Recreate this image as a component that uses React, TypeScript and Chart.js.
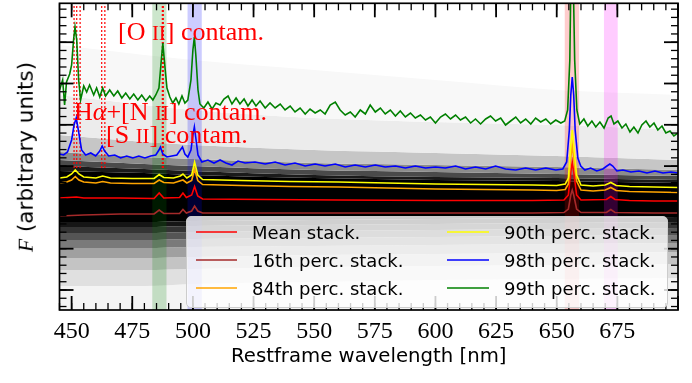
import React, { useEffect, useRef, useState } from 'react';
import { Chart, registerables } from 'chart.js';

Chart.register(...registerables);

// ---------- axes ----------
const X_MIN = 445;
const X_MAX = 700;
const X_TICKS = [450, 475, 500, 525, 550, 575, 600, 625, 650, 675];
const X_MAJOR_STEP = 25;
const X_MINOR_STEP = 5;
const Y_MIN = -2;
const Y_MAX = 28.67;
const Y_MAJOR_STEP = 4.13;
const Y_MINOR_DIV = 5;

// ---------- spectra (wavelength nm, flux arbitrary units) ----------
const P99: [number, number][] = [
  [445.0, 20.0], [446.3, 21.0], [447.1, 18.5], [447.9, 20.8], [449.2, 21.6], [450.0, 22.5], [450.8, 25.0], [451.4, 26.3], [452.1, 25.0], [452.9, 21.0],
  [453.7, 19.0], [455.0, 20.4], [456.2, 19.8], [457.4, 20.5], [459.1, 19.5], [460.3, 20.2], [461.6, 19.3], [462.8, 20.2], [464.0, 19.4], [465.7, 20.0],
  [467.4, 19.4], [469.0, 19.9], [470.7, 19.2], [472.3, 19.7], [474.0, 19.1], [475.6, 19.6], [477.3, 19.0], [478.9, 19.5], [480.6, 18.9], [482.2, 19.4],
  [483.5, 19.0], [484.7, 19.5], [486.0, 20.2], [486.8, 22.5], [487.6, 24.7], [488.4, 22.5], [489.3, 20.2], [490.5, 19.3], [491.7, 18.7], [493.0, 19.2],
  [494.2, 18.6], [495.5, 19.4], [496.7, 18.7], [497.9, 19.0], [499.2, 21.0], [500.0, 24.0], [500.6, 25.3], [501.2, 23.5], [502.1, 20.0], [502.9, 18.6],
  [504.5, 18.2], [506.2, 18.8], [507.9, 18.1], [509.5, 18.7], [511.2, 18.5], [512.8, 19.1], [514.5, 19.4], [516.1, 18.6], [517.8, 19.2], [519.4, 18.6],
  [521.1, 19.1], [522.7, 18.4], [524.4, 19.0], [526.0, 18.4], [527.7, 18.9], [529.8, 18.2], [531.8, 18.7], [533.9, 18.2], [536.0, 18.6], [538.0, 18.0],
  [540.1, 18.4], [542.1, 17.8], [544.2, 18.2], [546.3, 17.6], [548.3, 18.1], [550.4, 17.7], [552.5, 18.0], [554.5, 17.6], [556.6, 18.5], [558.7, 18.8],
  [560.7, 18.0], [562.8, 17.5], [564.9, 17.8], [566.9, 17.3], [569.0, 18.0], [571.1, 17.6], [573.1, 18.5], [575.2, 17.8], [577.3, 18.2], [579.3, 17.6],
  [581.4, 18.0], [583.5, 17.4], [585.5, 17.9], [587.6, 17.3], [589.7, 17.7], [591.7, 17.2], [593.8, 17.5], [595.9, 17.0], [597.9, 17.3], [600.0, 16.7],
  [602.1, 17.3], [604.1, 17.6], [606.2, 17.1], [608.3, 17.5], [610.3, 17.0], [612.4, 17.3], [614.5, 16.7], [616.5, 17.1], [618.6, 16.6], [620.7, 17.1],
  [622.7, 17.4], [624.8, 16.9], [626.9, 17.2], [628.9, 16.5], [631.0, 16.9], [633.1, 17.3], [635.1, 16.7], [637.2, 17.1], [639.3, 16.6], [641.3, 17.2],
  [643.4, 16.8], [645.5, 17.1], [647.5, 16.6], [649.6, 17.0], [651.7, 16.7], [653.3, 16.9], [654.5, 18.0], [655.4, 23.0], [656.0, 34.0], [656.6, 34.0],
  [657.4, 23.0], [658.3, 18.0], [659.5, 16.6], [661.2, 17.1], [662.8, 16.4], [664.5, 16.9], [666.1, 16.3], [667.8, 16.8], [669.5, 16.2], [671.2, 17.2],
  [672.4, 17.4], [673.6, 16.6], [675.2, 16.9], [676.9, 16.2], [678.5, 16.6], [680.2, 15.8], [681.8, 16.3], [683.5, 15.7], [685.1, 16.5], [686.8, 16.9],
  [688.4, 16.3], [690.1, 16.7], [691.7, 16.0], [693.4, 16.4], [695.0, 15.7], [696.7, 15.9], [698.3, 15.4], [700.0, 15.7],
];

const P98: [number, number][] = [
  [445.0, 13.6], [446.7, 13.5], [448.3, 13.8], [450.0, 15.0], [451.0, 16.5], [451.9, 17.2], [452.9, 15.8], [454.1, 14.0], [455.8, 13.5], [457.9, 13.7],
  [459.9, 13.4], [461.6, 13.9], [462.6, 14.4], [463.6, 13.9], [465.3, 13.4], [467.8, 13.5], [470.2, 13.2], [472.7, 13.4], [475.2, 13.2], [477.7, 13.4],
  [480.2, 13.2], [482.6, 13.4], [484.7, 13.5], [486.0, 14.0], [486.6, 14.3], [487.6, 13.6], [489.3, 13.3], [491.3, 13.4], [493.4, 13.5], [494.8, 14.0],
  [495.7, 14.3], [496.7, 13.6], [497.9, 13.3], [499.2, 14.0], [500.0, 15.5], [500.6, 16.3], [501.2, 15.2], [502.1, 13.5], [503.7, 12.8], [506.2, 13.0],
  [508.7, 12.7], [511.2, 13.0], [513.6, 12.7], [516.1, 12.5], [518.6, 12.9], [521.5, 12.7], [525.6, 12.8], [529.8, 12.6], [533.9, 12.8], [538.0, 12.5],
  [542.1, 12.7], [546.3, 12.4], [550.4, 12.6], [554.5, 12.4], [558.7, 12.6], [562.8, 12.3], [566.9, 12.5], [571.1, 12.3], [575.2, 12.5], [579.3, 12.3],
  [583.5, 12.4], [587.6, 12.2], [591.7, 12.4], [595.9, 12.2], [600.0, 12.3], [604.1, 12.2], [608.3, 12.4], [612.4, 12.1], [616.5, 12.3], [620.7, 12.1],
  [624.8, 12.4], [628.9, 12.1], [633.1, 12.0], [637.2, 12.2], [641.3, 12.0], [645.5, 12.2], [649.6, 12.0], [652.5, 12.1], [654.1, 12.8], [655.2, 16.0],
  [655.8, 19.5], [656.4, 21.3], [657.0, 19.5], [657.6, 16.0], [658.7, 13.2], [659.9, 12.4], [661.6, 12.0], [664.0, 12.2], [666.5, 11.9], [669.0, 12.1],
  [670.7, 12.4], [671.9, 12.6], [673.1, 12.4], [674.8, 11.9], [677.3, 12.0], [680.6, 11.8], [683.9, 11.9], [687.2, 11.7], [690.5, 11.9], [693.8, 11.7],
  [697.1, 11.8], [700.0, 11.7],
];

const P90: [number, number][] = [
  [445, 11.2], [448, 11.3], [450, 11.6], [451.5, 12.0], [453, 11.6], [455, 11.3], [460, 11.2], [462.8, 11.4], [466, 11.2], [475, 11.15],
  [484, 11.15], [486.1, 11.55], [488, 11.25], [492, 11.2], [494.8, 11.4], [495.9, 11.6], [497.5, 11.2], [499.5, 11.5], [500.7, 12.8], [502, 11.5],
  [504, 11.05], [520, 10.95], [540, 10.85], [560, 10.8], [580, 10.7], [600, 10.6], [620, 10.55], [640, 10.5], [650, 10.45], [653.5, 10.6],
  [654.8, 11.2], [655.8, 14.5], [656.4, 16.0], [657.0, 14.5], [658.2, 11.5], [660, 10.5], [665, 10.4], [670, 10.5], [672.3, 10.75], [674.5, 10.45],
  [680, 10.35], [690, 10.3], [700, 10.25],
];

const P84: [number, number][] = [
  [445, 10.7], [448, 10.8], [450, 11.0], [451.5, 11.35], [453, 11.0], [455, 10.8], [460, 10.7], [462.8, 10.85], [466, 10.7], [475, 10.65],
  [484, 10.65], [486.1, 11.0], [488, 10.75], [492, 10.7], [495.9, 11.0], [497.5, 10.7], [499.5, 10.95], [500.7, 12.1], [502, 10.95], [504, 10.55],
  [520, 10.45], [540, 10.35], [560, 10.3], [580, 10.2], [600, 10.1], [620, 10.05], [640, 10.0], [650, 9.95], [653.5, 10.05], [654.8, 10.6],
  [655.8, 13.2], [656.4, 14.5], [657.0, 13.2], [658.2, 10.9], [660, 10.0], [665, 9.9], [670, 10.0], [672.3, 10.25], [674.5, 9.95], [680, 9.85],
  [690, 9.8], [700, 9.75],
];

const MEAN: [number, number][] = [
  [445, 9.2], [452, 9.3], [455, 9.2], [470, 9.2], [484, 9.15], [486.1, 9.7], [488, 9.2], [494.5, 9.25], [495.9, 9.7], [497.3, 9.25],
  [499.5, 9.5], [500.7, 10.35], [502, 9.4], [504, 9.1], [530, 9.05], [560, 9.0], [600, 8.95], [640, 8.95], [653, 9.0], [654.8, 9.5],
  [655.8, 11.8], [656.4, 12.8], [657.0, 11.8], [658.2, 9.5], [660, 9.0], [670.5, 9.05], [672.3, 9.35], [674, 9.05], [680, 8.95], [690, 8.9],
  [700, 8.9],
];

const P16: [number, number][] = [
  [445, 7.4], [455, 7.5], [470, 7.6], [484, 7.6], [486.1, 8.0], [488, 7.65], [494.5, 7.65], [495.9, 8.05], [497.3, 7.7], [499.5, 7.9],
  [500.7, 8.4], [502, 7.9], [504, 7.7], [530, 7.7], [560, 7.7], [600, 7.7], [640, 7.7], [653, 7.75], [654.8, 8.1], [655.8, 9.5],
  [656.4, 10.0], [657.0, 9.5], [658.2, 8.1], [660, 7.75], [670.5, 7.75], [672.3, 8.05], [674, 7.75], [690, 7.7], [700, 7.7],
];

// ---------- density of individual spectra (envelope levels, top -> bottom) ----------
const ENV_WL = [445, 480, 500, 550, 600, 650, 700];
const ENV_U1 = [24.5, 23.5, 23.0, 22.0, 21.0, 20.0, 19.5];
const ENV_U2 = [19.5, 18.5, 18.0, 17.2, 16.8, 16.5, 16.0];
const ENV_U3 = [15.5, 14.8, 14.5, 14.0, 13.7, 13.4, 13.0];
const ENV_U4 = [13.8, 13.3, 13.1, 12.7, 12.5, 12.3, 12.0];
const ENV_U5 = [13.0, 12.6, 12.4, 12.0, 11.8, 11.6, 11.4];
const ENV_U6 = [12.4, 12.1, 11.9, 11.5, 11.3, 11.2, 11.0];
const ENV_U7 = [11.9, 11.7, 11.5, 11.2, 11.0, 10.9, 10.7];
const ENV_L7 = [6.8, 6.8, 6.9, 7.0, 7.1, 7.2, 7.3];
const ENV_L6 = [6.3, 6.3, 6.4, 6.5, 6.6, 6.7, 6.8];
const ENV_L5 = [5.7, 5.7, 5.8, 5.9, 6.0, 6.1, 6.2];
const ENV_L4 = [5.0, 5.0, 5.1, 5.2, 5.3, 5.4, 5.5];
const ENV_L3 = [4.2, 4.2, 4.3, 4.4, 4.5, 4.6, 4.7];
const ENV_L2 = [3.2, 3.2, 3.3, 3.5, 3.6, 3.7, 3.8];
const ENV_L1 = [2.0, 2.0, 2.1, 2.3, 2.4, 2.5, 2.6];
const ENV_L0 = [0.4, 0.4, 0.6, 0.8, 1.0, 1.1, 1.2];
const ENV_LB = [-2, -2, -2, -2, -2, -2, -2];
const ENVELOPES = [ENV_U1, ENV_U2, ENV_U3, ENV_U4, ENV_U5, ENV_U6, ENV_U7, ENV_L7, ENV_L6, ENV_L5, ENV_L4, ENV_L3, ENV_L2, ENV_L1, ENV_L0, ENV_LB];
const BAND_GRAYS = ['#f8f8f8', '#ececec', '#c6c6c6', '#8c8c8c', '#4a4a4a', '#1a1a1a', '#000000', '#161616', '#343434', '#555555', '#7a7a7a', '#a0a0a0', '#c4c4c4', '#e0e0e0', '#f4f4f4'];

// ---------- masked regions & contaminant lines ----------
const SPANS: { from: number; to: number; color: string }[] = [
  { from: 483.2, to: 489.2, color: 'rgba(0,128,0,0.2)' },
  { from: 497.7, to: 503.7, color: 'rgba(0,0,255,0.2)' },
  { from: 653.2, to: 659.3, color: 'rgba(255,0,0,0.2)' },
  { from: 669.4, to: 675.2, color: 'rgba(255,0,255,0.2)' },
];
const CONTAM_LINES = [451.0, 452.1, 453.5, 462.4, 463.7, 487.4, 487.8];
const CONTAM_LINE_BOTTOM = 12.2;

const SERIES = [
  { label: 'Mean stack.', data: MEAN, color: '#ff0000', order: 6 },
  { label: '16th perc. stack.', data: P16, color: '#a52a2a', order: 5 },
  { label: '84th perc. stack.', data: P84, color: '#ffa500', order: 4 },
  { label: '90th perc. stack.', data: P90, color: '#ffff00', order: 3 },
  { label: '98th perc. stack.', data: P98, color: '#0000ff', order: 2 },
  { label: '99th perc. stack.', data: P99, color: '#008000', order: 1 },
];

const frameTicksPlugin = {
  id: 'frameTicks',
  afterDatasetsDraw(chart: any) {
    const { ctx, chartArea: a, scales } = chart;
    const xs = scales.x;
    const ys = scales.y;
    const seg = (x1: number, y1: number, x2: number, y2: number) => {
      ctx.beginPath();
      ctx.moveTo(x1, y1);
      ctx.lineTo(x2, y2);
      ctx.stroke();
    };
    ctx.save();
    ctx.strokeStyle = '#000';
    const MINOR = 7;
    const MAJOR = 14;
    ctx.lineWidth = 1.3;
    for (let v = X_MIN; v <= X_MAX + 1e-6; v += X_MINOR_STEP) {
      const p = xs.getPixelForValue(v);
      seg(p, a.bottom, p, a.bottom - MINOR);
      seg(p, a.top, p, a.top + MINOR);
    }
    const yMinor = Y_MAJOR_STEP / Y_MINOR_DIV;
    for (let k = Math.ceil(Y_MIN / yMinor); k * yMinor <= Y_MAX; k++) {
      const p = ys.getPixelForValue(k * yMinor);
      seg(a.left, p, a.left + MINOR, p);
      seg(a.right, p, a.right - MINOR, p);
    }
    ctx.lineWidth = 1.8;
    for (let v = 450; v <= X_MAX + 1e-6; v += X_MAJOR_STEP) {
      const p = xs.getPixelForValue(v);
      seg(p, a.bottom, p, a.bottom - MAJOR);
      seg(p, a.top, p, a.top + MAJOR);
    }
    for (let k = Math.ceil(Y_MIN / Y_MAJOR_STEP); k * Y_MAJOR_STEP <= Y_MAX; k++) {
      const p = ys.getPixelForValue(k * Y_MAJOR_STEP);
      seg(a.left, p, a.left + MAJOR, p);
      seg(a.right, p, a.right - MAJOR, p);
    }
    ctx.lineWidth = 1.7;
    ctx.strokeRect(a.left, a.top, a.right - a.left, a.bottom - a.top);
    ctx.restore();
  },
};

const toXY = (arr: [number, number][]) => arr.map(([x, y]) => ({ x, y }));

export default function App() {
  const canvasRef = useRef<HTMLCanvasElement | null>(null);
  const [xLabels, setXLabels] = useState<{ v: number; px: number; top: number }[]>([]);

  useEffect(() => {
    const canvas = canvasRef.current;
    if (!canvas) return;
    const datasets: any[] = [];
    ENVELOPES.forEach((env, i) => {
      datasets.push({
        data: ENV_WL.map((w, j) => ({ x: w, y: env[j] })),
        borderWidth: 0,
        borderColor: 'rgba(0,0,0,0)',
        backgroundColor: i === 0 ? 'rgba(0,0,0,0)' : BAND_GRAYS[i - 1],
        fill: i === 0 ? false : '-1',
        cubicInterpolationMode: 'monotone',
        order: 100,
      });
    });
    SPANS.forEach((s) => {
      datasets.push({
        data: [{ x: s.from, y: Y_MAX }, { x: s.to, y: Y_MAX }],
        borderWidth: 0,
        borderColor: 'rgba(0,0,0,0)',
        backgroundColor: s.color,
        fill: 'start',
        order: 50,
      });
    });
    CONTAM_LINES.forEach((w) => {
      datasets.push({
        data: [{ x: w, y: CONTAM_LINE_BOTTOM }, { x: w, y: Y_MAX }],
        borderWidth: 1.2,
        borderColor: '#ff0000',
        borderDash: [2, 2],
        fill: false,
        order: 40,
      });
    });
    SERIES.forEach((s) => {
      datasets.push({
        label: s.label,
        data: toXY(s.data),
        borderColor: s.color,
        borderWidth: 1.6,
        fill: false,
        order: s.order,
      });
    });

    const chart = new Chart(canvas, {
      type: 'line',
      data: { datasets },
      plugins: [frameTicksPlugin],
      options: {
        animation: false,
        responsive: false,
        devicePixelRatio: 1,
        events: [],
        layout: { padding: { top: 3.3, right: 14, bottom: 0, left: 0 } },
        elements: { point: { radius: 0, hoverRadius: 0 }, line: { tension: 0 } },
        plugins: { legend: { display: false }, tooltip: { enabled: false } },
        scales: {
          x: {
            type: 'linear',
            min: X_MIN,
            max: X_MAX,
            afterBuildTicks: (s: any) => {
              s.ticks = X_TICKS.map((v) => ({ value: v }));
            },
            afterFit: (s: any) => {
              s.height = 73;
            },
            grid: { display: false, drawTicks: false },
            border: { display: false },
            ticks: { display: false },
            title: {
              display: true,
              text: 'Restframe wavelength [nm]',
              color: '#000',
              font: { family: '"DejaVu Sans", sans-serif', size: 19.7 },
              padding: { top: 0, bottom: 14 },
            },
          },
          y: {
            type: 'linear',
            min: Y_MIN,
            max: Y_MAX,
            ticks: { display: false },
            grid: { display: false, drawTicks: false },
            border: { display: false },
            afterFit: (s: any) => {
              s.width = 59.5;
            },
          },
        },
      } as any,
    });
    const xs: any = chart.scales.x;
    setXLabels(X_TICKS.map((v) => ({ v, px: xs.getPixelForValue(v), top: chart.chartArea.bottom + 7.5 })));
    return () => chart.destroy();
  }, []);

  const contamStyle: React.CSSProperties = {
    position: 'absolute',
    color: '#ff0000',
    fontFamily: '"Liberation Serif", "DejaVu Serif", serif',
    fontSize: 26,
    lineHeight: '26px',
    whiteSpace: 'nowrap',
  };
  const sc: React.CSSProperties = { fontSize: '0.8em' };
  const legendText: React.CSSProperties = {
    position: 'absolute',
    fontFamily: '"DejaVu Sans", sans-serif',
    fontSize: 18,
    lineHeight: '18px',
    whiteSpace: 'nowrap',
    color: '#000',
  };
  const rows = [15, 43, 71];
  const cols = [
    { handle: 9, width: 41, text: 65 },
    { handle: 260, width: 42, text: 317 },
  ];

  return (
    <div style={{ position: 'fixed', left: 0, top: 0, width: 692, height: 383, background: '#fff', overflow: 'hidden' }}>
      <canvas ref={canvasRef} width={692} height={383} style={{ position: 'absolute', left: 0, top: 0, display: 'block' }} />
      {xLabels.map((l) => (
        <div
          key={l.v}
          style={{
            position: 'absolute',
            left: l.px,
            top: l.top,
            transform: 'translateX(-50%)',
            fontFamily: '"Liberation Serif", "DejaVu Serif", serif',
            fontSize: 24,
            lineHeight: '24px',
            whiteSpace: 'nowrap',
            color: '#000',
          }}
        >
          {l.v}
        </div>
      ))}
      <div style={{ ...contamStyle, left: 118, top: 19 }}>
        [O <span style={sc}>II</span>] contam.
      </div>
      <div style={{ ...contamStyle, left: 74, top: 99 }}>
        H<i>α</i>+[N <span style={sc}>II</span>] contam.
      </div>
      <div style={{ ...contamStyle, left: 106, top: 122 }}>
        [S <span style={sc}>II</span>] contam.
      </div>
      <div
        style={{
          position: 'absolute',
          left: 26,
          top: 156.5,
          transform: 'translate(-50%, -50%) rotate(-90deg)',
          fontFamily: '"DejaVu Sans", sans-serif',
          fontSize: 21.5,
          lineHeight: '21.5px',
          whiteSpace: 'nowrap',
          color: '#000',
        }}
      >
        <i style={{ fontFamily: '"Liberation Serif", serif' }}>F</i> (arbitrary units)
      </div>
      <div
        style={{
          position: 'absolute',
          left: 186,
          top: 216,
          width: 482,
          height: 92,
          boxSizing: 'border-box',
          backgroundColor: 'rgba(255,255,255,0.8)',
          border: '1px solid #cccccc',
          borderRadius: 5,
        }}
      >
        {SERIES.map((s, i) => {
          const col = cols[Math.floor(i / 3)];
          const ry = rows[i % 3];
          return (
            <React.Fragment key={s.label}>
              <svg
                width={col.width}
                height={4}
                style={{ position: 'absolute', left: col.handle, top: ry - 2, overflow: 'visible' }}
              >
                <line x1={0} y1={2} x2={col.width} y2={2} stroke={s.color} strokeWidth={1.6} />
              </svg>
              <div style={{ ...legendText, left: col.text, top: ry - 8 }}>{s.label}</div>
            </React.Fragment>
          );
        })}
      </div>
    </div>
  );
}
